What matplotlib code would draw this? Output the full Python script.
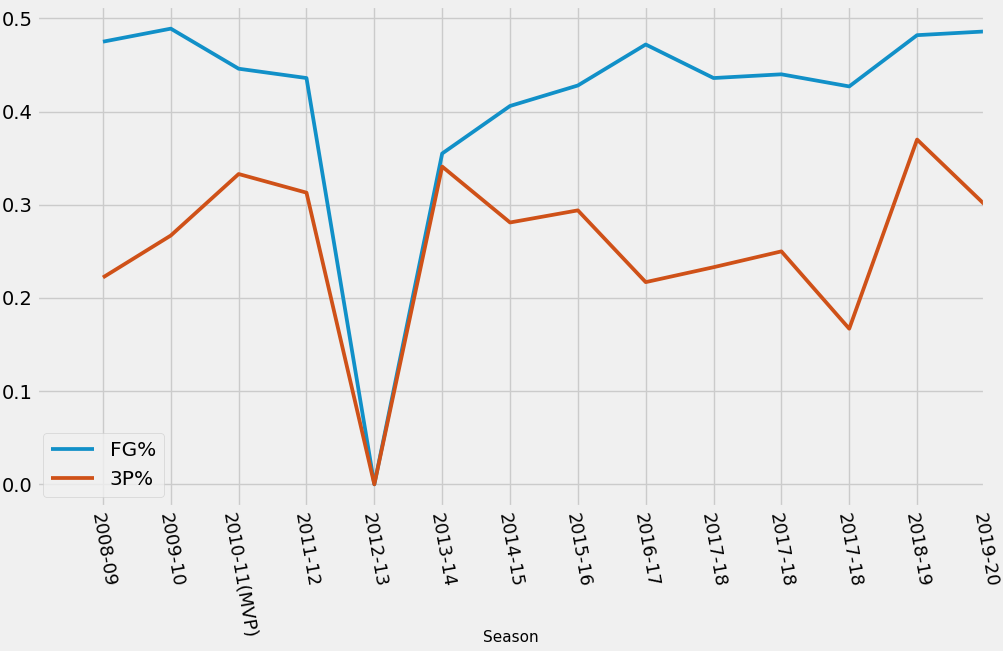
import matplotlib
matplotlib.use('Agg')
import matplotlib.pyplot as plt
import numpy as np

plt.style.use('fivethirtyeight')

# seasons (the 2017-18 label repeats three times in the source)
seasons = ['2008-09', '2009-10', '2010-11(MVP)', '2011-12', '2012-13', '2013-14',
           '2014-15', '2015-16', '2016-17', '2017-18', '2017-18', '2017-18',
           '2018-19', '2019-20']
fg_pct = [0.475, 0.489, 0.446, 0.436, 0.0, 0.355, 0.406, 0.428, 0.472,
          0.436, 0.440, 0.427, 0.482, 0.486]
three_pct = [0.222, 0.267, 0.333, 0.313, 0.0, 0.341, 0.281, 0.294, 0.217,
             0.233, 0.250, 0.167, 0.370, 0.300]

fig = plt.figure(figsize=(10.04, 6.51), dpi=100)
fig.patch.set_facecolor('#f0f0f0')
ax = fig.add_axes([0.037, 0.221, 0.944, 0.770])
ax.set_facecolor('#f0f0f0')

x = np.arange(len(seasons))
ax.plot(x, fg_pct, color='#1190c8', linewidth=2.7, label='FG%')
ax.plot(x, three_pct, color='#cf5118', linewidth=2.7, label='3P%')

ax.set_xlim(-0.97, 13)
ax.set_xticks(x)
ax.set_xticklabels(seasons, rotation=-80, ha='center', va='top', fontsize=13)
ax.set_yticks([0.0, 0.1, 0.2, 0.3, 0.4, 0.5])
ax.tick_params(axis='y', labelsize=14)
ax.tick_params(axis='x', pad=3)
ax.grid(True, color='#cbcbcb', linewidth=1)
ax.set_xlabel('Season', fontsize=11)
ax.xaxis.set_label_coords(0.5, -0.245)
ax.legend(loc='lower left', fontsize=14.5, handlelength=2.1,
          bbox_to_anchor=(-0.004, 0.0))

fig.savefig('out.png', dpi=100, facecolor=fig.get_facecolor())
